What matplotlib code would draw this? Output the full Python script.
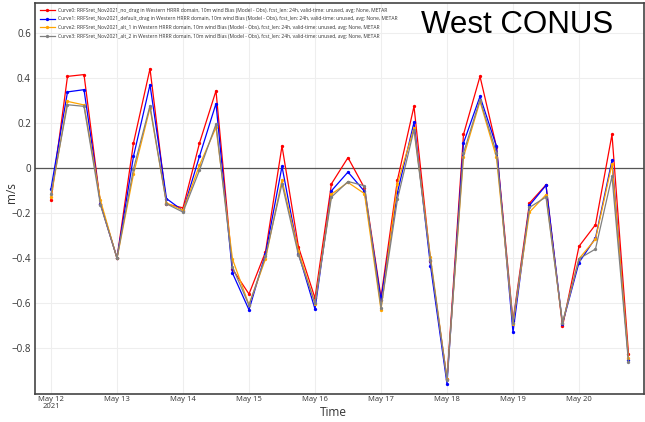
import matplotlib
matplotlib.use("Agg")
import matplotlib.pyplot as plt
import matplotlib.dates as mdates
import pandas as pd
import numpy as np

# ---- data ----
times = pd.date_range("2021-05-12 00:00", periods=36, freq="6h")

labels = [
    "Curve0: RRFSret_Nov2021_no_drag in Western HRRR domain, 10m wind Bias (Model - Obs), fcst_len: 24h, valid-time: unused, avg: None, METAR",
    "Curve1: RRFSret_Nov2021_default_drag in Western HRRR domain, 10m wind Bias (Model - Obs), fcst_len: 24h, valid-time: unused, avg: None, METAR",
    "Curve2: RRFSret_Nov2021_alt_1 in Western HRRR domain, 10m wind Bias (Model - Obs), fcst_len: 24h, valid-time: unused, avg: None, METAR",
    "Curve3: RRFSret_Nov2021_alt_2 in Western HRRR domain, 10m wind Bias (Model - Obs), fcst_len: 24h, valid-time: unused, avg: None, METAR",
]

red = [-0.142, 0.407, 0.415, -0.16, -0.40, 0.111, 0.441, -0.16, -0.177, 0.111,
       0.343, -0.449, -0.56, -0.373, 0.098, -0.351, -0.578, -0.07, 0.046, -0.089,
       -0.575, -0.052, 0.274, -0.415, -0.937, 0.149, 0.407, 0.093, -0.68, -0.156,
       -0.075, -0.704, -0.348, -0.252, 0.149, -0.825]
blue = [-0.092, 0.338, 0.348, -0.158, -0.40, 0.052, 0.37, -0.136, -0.19, 0.052,
        0.286, -0.467, -0.63, -0.382, 0.007, -0.38, -0.627, -0.101, -0.018, -0.104,
        -0.585, -0.108, 0.203, -0.434, -0.959, 0.111, 0.318, 0.096, -0.73, -0.166,
        -0.077, -0.692, -0.42, -0.311, 0.034, -0.852]
orange = [-0.13, 0.296, 0.28, -0.144, -0.402, -0.027, 0.267, -0.155, -0.188, 0.012,
          0.18, -0.405, -0.608, -0.404, -0.053, -0.37, -0.603, -0.116, -0.064, -0.114,
          -0.63, -0.07, 0.178, -0.397, -0.938, 0.049, 0.296, 0.047, -0.692, -0.196,
          -0.119, -0.69, -0.403, -0.316, 0.019, -0.845]
gray = [-0.114, 0.281, 0.274, -0.165, -0.40, -0.004, 0.277, -0.159, -0.196, -0.01,
        0.195, -0.44, -0.61, -0.393, -0.07, -0.387, -0.6, -0.129, -0.06, -0.079,
        -0.62, -0.138, 0.17, -0.408, -0.94, 0.067, 0.304, 0.067, -0.687, -0.175,
        -0.129, -0.687, -0.403, -0.36, -0.037, -0.864]

series = [red, blue, orange, gray]
colors = ["#ff0000", "#0000ff", "#ffa500", "#808080"]

ytick_vals = [-0.8, -0.6, -0.4, -0.2, 0, 0.2, 0.4, 0.6]
ytick_labels = ["\u22120.8", "\u22120.6", "\u22120.4", "\u22120.2", "0", "0.2", "0.4", "0.6"]
xtick_dates = pd.date_range("2021-05-12", "2021-05-20", freq="D")
xtick_labels = ["May 12\n2021"] + [d.strftime("%b ") + str(d.day) for d in xtick_dates[1:]]

# ---- figure ----
plt.rcParams["font.family"] = ["Open Sans", "DejaVu Sans"]
fig = plt.figure(figsize=(6.45, 4.22), dpi=100)
ax = fig.add_axes([35 / 645, 28 / 422, (644 - 35) / 645, (394 - 3) / 422])

for vals, c, lab in zip(series, colors, labels):
    ax.plot(times, vals, color=c, lw=0.9, marker="o", markersize=2.4,
            markeredgewidth=0, label=lab, zorder=3)

ax.axhline(0, color="#555555", lw=0.9, zorder=2)

ax.set_ylim(-1.004, 0.733)
x0 = mdates.date2num(pd.Timestamp("2021-05-12"))
ax.set_xlim(x0 - 0.2424, x0 + 8.985)

ax.set_yticks(ytick_vals)
ax.set_yticklabels(ytick_labels, fontsize=7, color="#333333")
ax.set_xticks(mdates.date2num(xtick_dates))
ax.set_xticklabels(xtick_labels, fontsize=5.5, color="#333333", linespacing=1.0)
ax.tick_params(axis="y", length=0, pad=3)
ax.tick_params(axis="x", length=0, pad=1.5)

ax.grid(True, color="#eeeeee", lw=0.8, zorder=0)
ax.set_axisbelow(True)
for s in ax.spines.values():
    s.set_color("#444444")
    s.set_linewidth(1.2)

ax.set_xlabel("Time", fontsize=8.5, color="#333333", va="center")
ax.xaxis.set_label_coords((333 - 35) / 609, -(413 - 394) / 391)
ax.set_ylabel("m/s", fontsize=8.5, color="#333333", va="center")
ax.yaxis.set_label_coords(-(35 - 12) / 609, 0.5 - (193 - 198.5) / 391)

leg = ax.legend(loc="upper left", fontsize=3.65, frameon=False,
                handlelength=3.0, handletextpad=0.6, labelspacing=0.72,
                borderaxespad=0.55, bbox_to_anchor=(0.0, 1.0))
for t in leg.get_texts():
    t.set_color("#333333")

fig.text(517 / 645, 1 - 33 / 422, "West CONUS", fontsize=22.5,
         family="Liberation Sans", ha="center", va="baseline", color="black")

fig.savefig("out.png", dpi=100)
